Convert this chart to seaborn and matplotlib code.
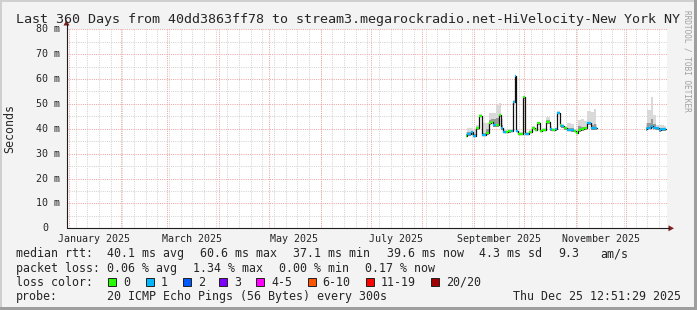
import matplotlib
matplotlib.use("Agg")
import numpy as np
import pandas as pd
import matplotlib.pyplot as plt
import matplotlib.dates as mdates
from matplotlib.transforms import Affine2D
from matplotlib.patches import Rectangle, Polygon
from matplotlib.lines import Line2D
import seaborn as sns

# ---------------- data ----------------
title = "Last 360 Days from 40dd3863ff78 to stream3.megarockradio.net-HiVelocity-New York NY"

dates = [
    "2025-08-27", "2025-08-29", "2025-08-31", "2025-09-01", "2025-09-03",
    "2025-09-05", "2025-09-07", "2025-09-09", "2025-09-11", "2025-09-12",
    "2025-09-13", "2025-09-15", "2025-09-17", "2025-09-18", "2025-09-19",
    "2025-09-21", "2025-09-22", "2025-09-24", "2025-09-25", "2025-09-26",
    "2025-09-27", "2025-09-28", "2025-09-30", "2025-10-01", "2025-10-02",
    "2025-10-03", "2025-10-05", "2025-10-07", "2025-10-08", "2025-10-10",
    "2025-10-11", "2025-10-13", "2025-10-16", "2025-10-17", "2025-10-19",
    "2025-10-20", "2025-10-22", "2025-10-23", "2025-10-24", "2025-10-26",
    "2025-10-28", "2025-10-30", "2025-11-01", "2025-11-02", "2025-11-03",
    "2025-11-05", "2025-11-07", "2025-11-09", "2025-11-11", "2025-11-13",
    "2025-11-14",
    "2025-12-13", "2025-12-15", "2025-12-17", "2025-12-18", "2025-12-20",
    "2025-12-22", "2025-12-23", "2025-12-25",
]
segment = [0] * 51 + [1] * 8

median_ms = [
    37.3, 37.9, 38.7, 37.1, 40.4,
    45.3, 37.6, 38.2, 42.5, 42.9,
    41.5, 41.5, 45.5, 40.2, 38.8,
    38.8, 39.0, 39.1, 50.9, 61.2,
    39.2, 37.9, 37.9, 52.7, 37.9,
    37.9, 38.8, 40.4, 39.5, 42.2,
    39.1, 39.5, 42.6, 39.9, 39.5,
    39.8, 46.5, 41.5, 41.1, 40.2,
    39.7, 39.5, 39.1, 38.4, 39.5,
    39.9, 40.2, 42.2, 40.2, 40.2,
    40.2,
    39.9, 40.4, 41.1, 40.4, 40.2, 39.5, 39.9, 39.9,
]
loss_bucket = [
    0, 1, 1, 1, 0,
    0, 1, 0, 0, 0,
    1, 0, 0, 1, 1,
    0, 0, 1, 1, 1,
    1, 0, 0, 0, 1,
    1, 0, 0, 0, 0,
    0, 0, 0, 1, 0,
    1, 1, 0, 1, 0,
    1, 1, 0, 0, 0,
    0, 0, 1, 1, 1,
    1,
    1, 1, 1, 1, 1, 1, 1, 1,
]
smoke_hi = [
    38.6, 40.2, 40.2, 39.5, 41.5,
    45.8, 42.2, 42.2, 46.5, 46.5,
    46.5, 49.6, 50.2, 44.0, 40.0,
    39.6, 39.8, 40.0, 51.5, 61.8,
    40.0, 38.6, 38.6, 53.3, 38.6,
    38.6, 39.5, 41.2, 40.2, 42.9,
    39.8, 40.2, 44.9, 41.0, 40.2,
    40.5, 47.0, 42.2, 42.0, 41.0,
    42.5, 42.0, 40.0, 39.5, 43.5,
    43.8, 43.0, 47.3, 46.9, 48.0,
    42.0,
    42.2, 47.6, 52.9, 45.5, 41.5, 41.5, 41.5, 41.0,
]
smoke_mid = [
    37.9, 38.8, 39.0, 38.0, 40.9,
    45.5, 38.5, 40.0, 43.5, 44.0,
    44.0, 44.5, 46.0, 41.5, 39.3,
    39.3, 39.4, 39.5, 51.0, 61.3,
    39.6, 38.3, 38.3, 52.8, 38.3,
    38.3, 39.2, 40.8, 39.9, 42.5,
    39.5, 39.9, 43.5, 40.4, 39.9,
    40.2, 46.7, 41.8, 41.5, 40.6,
    40.5, 40.3, 39.5, 38.9, 41.1,
    40.8, 40.8, 42.6, 41.5, 42.0,
    40.8,
    40.8, 42.5, 44.0, 42.0, 40.8, 40.2, 40.5, 40.4,
]
smoke_lo = [
    36.8, 37.3, 37.6, 36.6, 39.4,
    44.8, 37.1, 37.6, 41.5, 42.2,
    40.8, 40.8, 44.8, 39.6, 38.3,
    38.3, 38.5, 38.6, 50.3, 60.6,
    38.7, 37.4, 37.4, 52.1, 37.4,
    37.4, 38.3, 39.8, 39.0, 41.6,
    38.6, 39.0, 42.0, 39.3, 39.0,
    39.3, 45.9, 40.9, 40.5, 39.6,
    39.1, 38.9, 38.6, 37.9, 38.9,
    39.3, 39.6, 41.6, 39.6, 39.6,
    39.6,
    39.3, 39.8, 40.5, 39.8, 39.6, 38.9, 39.3, 39.3,
]

y_ticks = [0, 10, 20, 30, 40, 50, 60, 70, 80]
y_tick_labels = ["0", "10 m", "20 m", "30 m", "40 m", "50 m", "60 m", "70 m", "80 m"]
x_label_dates = ["2025-01-16", "2025-03-16", "2025-05-16", "2025-07-16", "2025-09-16", "2025-11-16"]
x_labels = ["January 2025", "March 2025", "May 2025", "July 2025", "September 2025", "November 2025"]

loss_names = ["0", "1", "2", "3", "4-5", "6-10", "11-19", "20/20"]
loss_colors = ["#26ff00", "#00b8ff", "#0059ff", "#7e00ff", "#ff00ff", "#ff5500", "#ff0000", "#a10000"]

rtt_line = [("median rtt:", 16), ("40.1 ms avg", 107.3), ("60.6 ms max", 200.0),
            ("37.1 ms min", 292.7), ("39.6 ms now", 386.7), ("4.3 ms sd", 479.3),
            ("9.3", 558.3), ("am/s", 600.0)]
loss_line = [("packet loss:", 16), ("0.06 % avg", 107.3), ("1.34 % max", 192.7),
             ("0.00 % min", 279.3), ("0.17 % now", 365.0)]
probe_line = [("probe:", 16), ("20 ICMP Echo Pings (56 Bytes) every 300s", 107.3),
              ("Thu Dec 25 12:51:29 2025", 513.3)]

# ---------------- figure ----------------
sns.set_style("white")
plt.rcParams["font.family"] = ["DejaVu Sans Mono"]
W, H = 697, 310
fig = plt.figure(figsize=(W / 100, H / 100), dpi=100, facecolor="#F3F3F3")
IMG = Affine2D().scale(1 / W, -1 / H).translate(0, 1) + fig.transFigure

L, R, T, B = 66.5, 666.5, 29.3, 228.3
ax = fig.add_axes([L / W, 1 - B / H, (R - L) / W, (B - T) / H])
ax.set_facecolor("white")
for s in ax.spines.values():
    s.set_visible(False)

t0 = mdates.date2num(pd.Timestamp("2024-12-30 12:51:29").to_pydatetime())
t1 = mdates.date2num(pd.Timestamp("2025-12-25 12:51:29").to_pydatetime())
ax.set_xlim(t0, t1)
ax.set_ylim(0, 80)

MAJ = "#eda3a3"
MIN = "#d2d2d2"
dot = (0, (1, 1.2))
# vertical grid
for d in pd.date_range("2025-01-05", "2025-12-21", freq="7D"):
    ax.axvline(mdates.date2num(d.to_pydatetime()), color=MIN, lw=0.72, ls=dot, zorder=0.5)
for d in pd.date_range("2025-01-01", "2025-12-01", freq="MS"):
    ax.axvline(mdates.date2num(d.to_pydatetime()), color=MAJ, lw=0.72, ls=dot, zorder=0.6)
# horizontal grid
for v in range(5, 80, 10):
    ax.axhline(v, color=MIN, lw=0.72, ls=dot, zorder=0.5)
for v in range(10, 81, 10):
    ax.axhline(v, color=MAJ, lw=0.72, ls=dot, zorder=0.6)

df = pd.DataFrame({
    "date": pd.to_datetime(dates),
    "seg": segment,
    "median": median_ms,
    "loss": loss_bucket,
    "hi": smoke_hi,
    "mid": smoke_mid,
    "lo": smoke_lo,
})
df["x"] = mdates.date2num(df["date"].dt.to_pydatetime())

# smoke
for seg, d in df.groupby("seg"):
    ax.fill_between(d["x"], d["lo"], d["hi"], step="mid", color="#d9d9d9", lw=0, zorder=2)
    ax.fill_between(d["x"], d["lo"], d["mid"], step="mid", color="#9a9a9a", lw=0, zorder=2.1)

# median line (dark)
sns.lineplot(data=df, x="x", y="median", units="seg", estimator=None, color="#111111",
             lw=0.9, drawstyle="steps-mid", ax=ax, zorder=3, legend=False)

# coloured median segments by loss
for seg, d in df.groupby("seg"):
    xs = d["x"].to_numpy()
    mids = (xs[:-1] + xs[1:]) / 2
    lefts = np.concatenate([[xs[0]], mids])
    rights = np.concatenate([mids, [xs[-1]]])
    for xl, xr, m, lb in zip(lefts, rights, d["median"], d["loss"]):
        ax.hlines(m, xl, xr, colors=loss_colors[lb], lw=1.6, zorder=4)

ax.set_xlabel("")
ax.set_ylabel("")
ax.set_xticks([mdates.date2num(pd.Timestamp(s).to_pydatetime()) for s in x_label_dates])
ax.set_xticklabels(x_labels, fontsize=7.2)
ax.tick_params(axis="x", length=0, pad=4.3)
ax.set_yticks([])

# y tick labels
for v, lab in zip(y_ticks, y_tick_labels):
    ypix = B - v * (B - T) / 80
    xr = 60 if lab != "0" else 48
    fig.text(xr, ypix, lab, transform=IMG, ha="right", va="center", fontsize=7.2)

# axes lines and arrows
fig.add_artist(Line2D([L, 669], [B, B], transform=IMG, color="#1e1e1e", lw=0.8))
fig.add_artist(Line2D([L, L], [B, 24], transform=IMG, color="#1e1e1e", lw=0.8))
fig.add_artist(Polygon([[668.5, B - 3], [668.5, B + 3], [674, B]], closed=True,
                       transform=IMG, color="#7f1f1f", lw=0))
fig.add_artist(Polygon([[L - 3, 25.5], [L + 3, 25.5], [L, 20]], closed=True,
                       transform=IMG, color="#7f1f1f", lw=0))

# frame shading
fig.add_artist(Rectangle((0, 0), W, 2, transform=IMG, color="#CFCFCF", lw=0))
fig.add_artist(Rectangle((0, 0), 2, H, transform=IMG, color="#CFCFCF", lw=0))
fig.add_artist(Rectangle((0, H - 3), W, 3, transform=IMG, color="#9E9E9E", lw=0))
fig.add_artist(Rectangle((W - 3, 0), 3, H, transform=IMG, color="#9E9E9E", lw=0))

# title & labels
fig.text(348.5, 23.3, title, transform=IMG, ha="center", va="baseline", fontsize=9.6)
fig.text(10, 128.5, "Seconds", transform=IMG, ha="center", va="center", rotation=90, fontsize=8.4)
fig.text(686.5, 10, "RRDTOOL / TOBI OETIKER", transform=IMG, ha="center", va="top",
         rotation=270, fontsize=5.6, color="#a0a0a0")

# legend
FS = 8.4
for txt, x in rtt_line:
    fig.text(x, 257.3, txt, transform=IMG, ha="left", va="baseline", fontsize=FS)
for txt, x in loss_line:
    fig.text(x, 271.7, txt, transform=IMG, ha="left", va="baseline", fontsize=FS)
fig.text(16, 285.7, "loss color:", transform=IMG, ha="left", va="baseline", fontsize=FS)
box_x = [108, 145.7, 182.7, 219.3, 256, 307.7, 365.7, 430.7]
for bx, name, col in zip(box_x, loss_names, loss_colors):
    fig.add_artist(Rectangle((bx, 277.5), 8, 8, transform=IMG, facecolor=col,
                             edgecolor="#202020", lw=0.7))
    fig.text(bx + 15, 285.7, name, transform=IMG, ha="left", va="baseline", fontsize=FS)
for txt, x in probe_line:
    fig.text(x, 300, txt, transform=IMG, ha="left", va="baseline", fontsize=FS)

fig.savefig("out.png", dpi=100, facecolor=fig.get_facecolor())
